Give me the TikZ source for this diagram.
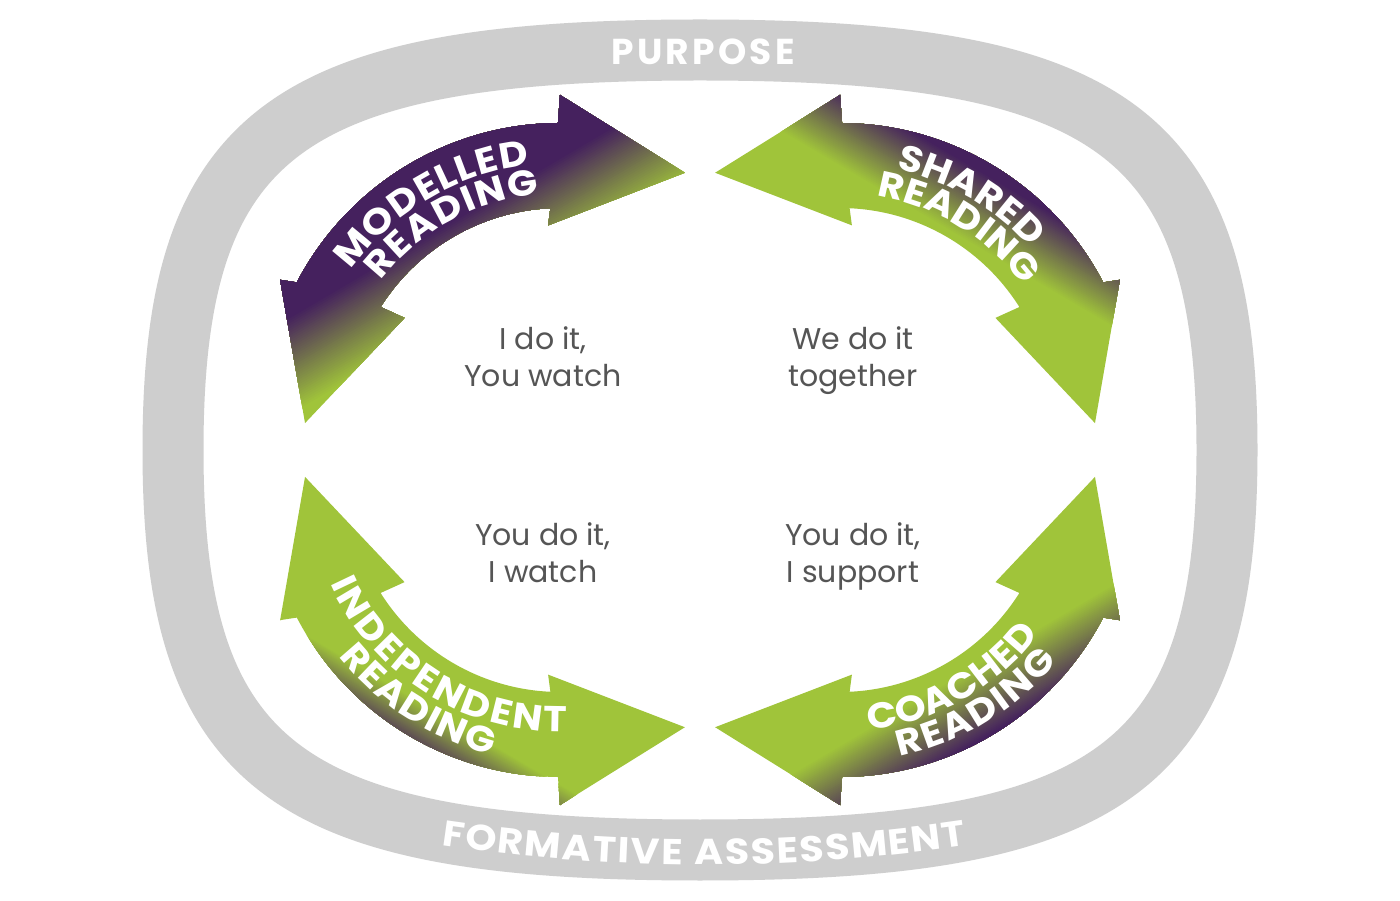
\documentclass[tikz,border=0pt]{standalone}
\usepackage{fontspec}
\usetikzlibrary{decorations.text}
\setmainfont{Poppins}
\newfontfamily\tracked{Poppins}[LetterSpace=9]
\newfontfamily\widefont{Poppins}[FakeStretch=1.1]

\definecolor{ringgray}{RGB}{206,206,206}
\definecolor{readpurple}{RGB}{69,33,94}
\definecolor{readgreen}{RGB}{160,196,58}
\definecolor{saygray}{RGB}{85,85,85}

\newcommand{\ringfont}{\widefont\bfseries\fontsize{36}{36}\selectfont}
\newcommand{\labelfont}{\widefont\bfseries\fontsize{36}{36}\selectfont}

\tikzset{
  readarrow/.style={insert path={(63.2:277) -- (90:325) -- (90.4:297)
    arc[start angle=90.4, end angle=152.4, radius=297] -- (153.4:313) -- (180.7:255)
    -- (146.7:186) -- (147.8:212) arc[start angle=147.8, end angle=92.6, radius=212]
    -- (93.5:195) -- cycle}},
  saytext/.style={anchor=base, align=center, text=saygray, font=\fontsize{30}{37}\selectfont},
  ringtext/.style={anchor=base, text=white, font={\tracked\bfseries\fontsize{36}{36}\selectfont}},
  labeltext/.style={decorate, decoration={text along path, text align={fit to path}, text color=white}}
}

% clip to one arrow and shade it along its axis
\newcommand{\shadearrow}[3]{%
  \clip[readarrow];
  \begin{scope}[rotate=120.5]
    \fill[readgreen] (-400,-400) rectangle (400,400);
    \foreach \i in {0,...,40}{
      \pgfmathsetmacro\stripx{#1+\i*(#2-#1)/40}
      \pgfmathsetmacro\strippct{#3*\i/40}
      \fill[readpurple!\strippct!readgreen] (\stripx,-400) rectangle (400,400);
    }
  \end{scope}}

\begin{document}
\begin{tikzpicture}[x=1pt, y=1pt]
\fill[white] (0,0) rectangle (1400,900);

% ring
\draw[ringgray, line width=61, line join=round] (1227,450) .. controls (1227,766) and (1116,850) .. (700,850)
  .. controls (284,850) and (173,766) .. (173,450)
  .. controls (173,134) and (284,50) .. (700,50)
  .. controls (1116,50) and (1227,134) .. (1227,450) -- cycle;
\node[ringtext] (purpose) at (703,835) {PURPOSE};
\path[labeltext, decoration={text={|\ringfont|FORMATIVE ASSESSMENT}}]
  ([shift={(261.6:1800)}]704,1835) arc[start angle=261.6, end angle=278.4, radius=1800];

% arrows
\begin{scope}[shift={(560,480)}]
  \shadearrow{140}{225}{100}
\end{scope}
\begin{scope}[shift={(1400,0)}, xscale=-1, shift={(560,480)}]
  \shadearrow{218}{285}{100}
\end{scope}
\begin{scope}[shift={(0,900)}, yscale=-1, shift={(560,480)}]
  \shadearrow{262}{300}{80}
\end{scope}
\begin{scope}[shift={(1400,900)}, scale=-1, shift={(560,480)}]
  \shadearrow{228}{295}{100}
\end{scope}

% arrow labels
\path[labeltext, decoration={text={|\labelfont|MODELLED}}]
  ([shift={(144.3:257)}]560,480) arc[start angle=144.3, end angle=96.8, radius=257];
\path[labeltext, decoration={text={|\labelfont|READING}}]
  ([shift={(142.3:227)}]560,480) arc[start angle=142.3, end angle=95.1, radius=227];
\path[labeltext, decoration={text={|\labelfont|SHARED}}]
  ([shift={(77.4:257)}]840,480) arc[start angle=77.4, end angle=44.5, radius=257];
\path[labeltext, decoration={text={|\labelfont|READING}}]
  ([shift={(80.7:227)}]840,480) arc[start angle=80.7, end angle=38.5, radius=227];
\path[labeltext, decoration={text={|\labelfont|INDEPENDENT}}]
  ([shift={(204.2:252)}]560,420) arc[start angle=204.2, end angle=271.6, radius=252];
\path[labeltext, decoration={text={|\labelfont|READING}}]
  ([shift={(218.5:283)}]560,420) arc[start angle=218.5, end angle=256, radius=283];
\path[labeltext, decoration={text={|\labelfont|COACHED}}]
  ([shift={(276.7:252)}]840,420) arc[start angle=276.7, end angle=321.8, radius=252];
\path[labeltext, decoration={text={|\labelfont|READING}}]
  ([shift={(282.1:283)}]840,420) arc[start angle=282.1, end angle=320.2, radius=283];

% what teacher and pupil do
\node[saytext] (modelsay) at (543,513) {I do it,\\You watch};
\node[saytext] (sharesay) at (853,513) {We do it\\together};
\node[saytext] (indepsay) at (543,317) {You do it,\\I watch};
\node[saytext] (coachsay) at (853,317) {You do it,\\I support};
\end{tikzpicture}
\end{document}
